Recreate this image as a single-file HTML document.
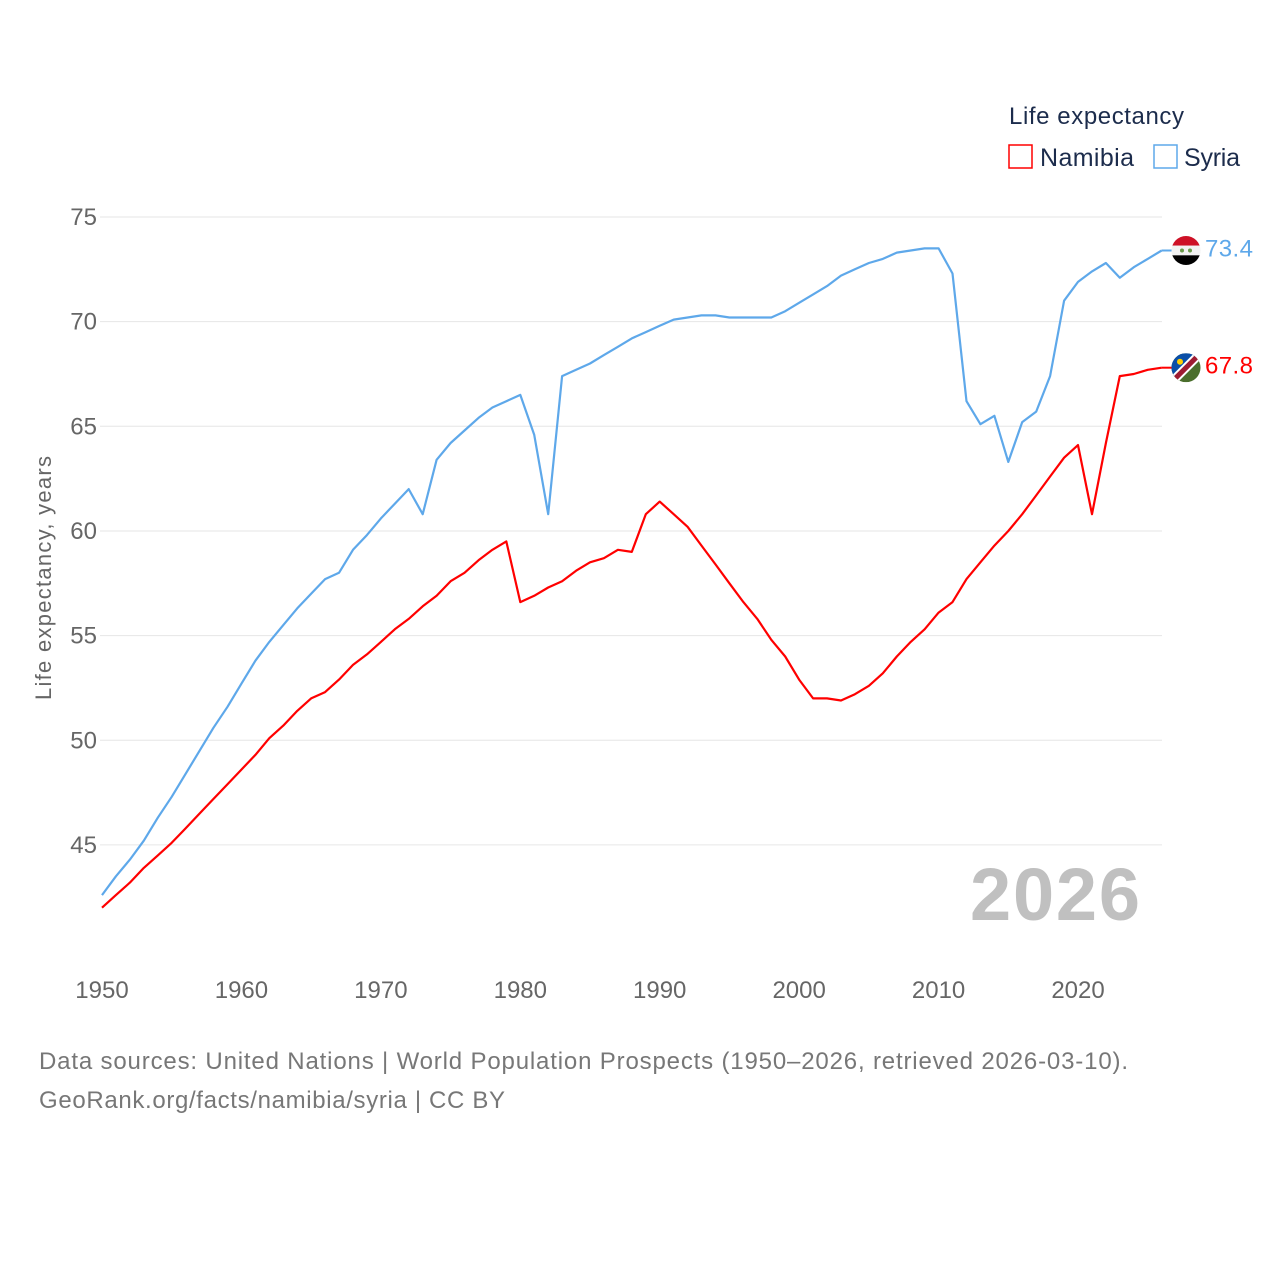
<!DOCTYPE html>
<html><head><meta charset="utf-8"><style>
html,body{margin:0;padding:0;background:#fff;}
svg{display:block;font-family:"Liberation Sans",sans-serif;}
</style></head><body>
<svg id="chart" width="1280" height="1280" viewBox="0 0 1280 1280">
<g id="grid"></g>
<g id="yticks"></g>
<g id="xticks"></g>
<text transform="translate(51,578) rotate(-90)" text-anchor="middle" font-size="22" fill="#666" textLength="244">Life expectancy, years</text>
<g id="series"></g>
<text x="1140" y="920" text-anchor="end" font-size="74" font-weight="bold" fill="#c0c0c0" textLength="170">2026</text>
<g>
<text x="1009" y="124" font-size="24" fill="#1c2c4c" textLength="175">Life expectancy</text>
<g><rect x="1009" y="145" width="23" height="23" fill="none" stroke="#ff0000" stroke-width="1.5"/><text x="1040" y="166" font-size="25" fill="#1c2c4c" textLength="94">Namibia</text></g>
<g><rect x="1154" y="145" width="23" height="23" fill="none" stroke="#5ea8ea" stroke-width="1.5"/><text x="1184" y="166" font-size="25" fill="#1c2c4c" textLength="56">Syria</text></g>
</g>
<g>
<text x="39" y="1069" font-size="24" fill="#777" textLength="1089">Data sources: United Nations | World Population Prospects (1950–2026, retrieved 2026-03-10).</text>
<text x="39" y="1108" font-size="24" fill="#777" textLength="466">GeoRank.org/facts/namibia/syria | CC BY</text>
</g>
</svg>
<script>
const years = [];
for (let y = 1950; y <= 2026; y++) years.push(y);
const syria = [42.6,43.5,44.3,45.2,46.3,47.3,48.4,49.5,50.6,51.6,52.7,53.8,54.7,55.5,56.3,57.0,57.7,58.0,59.1,59.8,60.6,61.3,62.0,60.8,63.4,64.2,64.8,65.4,65.9,66.2,66.5,64.6,60.8,67.4,67.7,68.0,68.4,68.8,69.2,69.5,69.8,70.1,70.2,70.3,70.3,70.2,70.2,70.2,70.2,70.5,70.9,71.3,71.7,72.2,72.5,72.8,73.0,73.3,73.4,73.5,73.5,72.3,66.2,65.1,65.5,63.3,65.2,65.7,67.4,71.0,71.9,72.4,72.8,72.1,72.6,73.0,73.4];
const namibia = [42.0,42.6,43.2,43.9,44.5,45.1,45.8,46.5,47.2,47.9,48.6,49.3,50.1,50.7,51.4,52.0,52.3,52.9,53.6,54.1,54.7,55.3,55.8,56.4,56.9,57.6,58.0,58.6,59.1,59.5,56.6,56.9,57.3,57.6,58.1,58.5,58.7,59.1,59.0,60.8,61.4,60.8,60.2,59.3,58.4,57.5,56.6,55.8,54.8,54.0,52.9,52.0,52.0,51.9,52.2,52.6,53.2,54.0,54.7,55.3,56.1,56.6,57.7,58.5,59.3,60.0,60.8,61.7,62.6,63.5,64.1,60.8,64.2,67.4,67.5,67.7,67.8];
const yTicks = [45,50,55,60,65,70,75];
const xTicks = [1950,1960,1970,1980,1990,2000,2010,2020];

const NS = "http://www.w3.org/2000/svg";
const xS = v => 102 + (v - 1950) * 13.943;
const yS = v => 217 + (75 - v) * 20.93;
function mk(tag, attrs, parent){const e=document.createElementNS(NS,tag);for(const k in attrs)e.setAttribute(k,attrs[k]);parent.appendChild(e);return e;}
const grid=document.getElementById('grid'), yt=document.getElementById('yticks'), xt=document.getElementById('xticks'), ser=document.getElementById('series');
yTicks.forEach(t=>{
  const l=mk('line',{x1:100,x2:1162,y1:yS(t),y2:yS(t),stroke:'#e6e6e6','stroke-width':1},grid);
  
  
  const tx=mk('text',{x:97,y:yS(t)+8,'text-anchor':'end','font-size':24,fill:'#666'},yt);
  tx.textContent=t;
  
  
});
xTicks.forEach(t=>{
  const tx=mk('text',{x:xS(t),y:998,'text-anchor':'middle','font-size':24,fill:'#666'},xt);
  tx.textContent=t;
  
  
});
function line(vals,color,name){
  const d=vals.map((v,i)=>(i?'L':'M')+xS(years[i]).toFixed(1)+' '+yS(v).toFixed(1)).join(' ');
  const p=mk('path',{d:d,fill:'none',stroke:color,'stroke-width':2.2,'stroke-linejoin':'round'},ser);
  
  
}
line(syria,'#5ea8ea','syria-line');
line(namibia,'#ff0000','namibia-line');

function endLabel(vals,color,name,flag){
  const v=vals[vals.length-1], x=xS(years[years.length-1]), y=yS(v);
  const g=mk('g',{},ser);
  
  
  mk('line',{x1:x,x2:1172,y1:y,y2:y,stroke:color,'stroke-width':2},g);
  const cx=1186, r=14.5;
  const cid='clip-'+name;
  const cp=mk('clipPath',{id:cid},g); mk('circle',{cx:cx,cy:y,r:r},cp);
  const fg=mk('g',{'clip-path':'url(#'+cid+')'},g);
  
  
  flag(fg,cx,y,r);
  const t=mk('text',{x:1205,y:y+6,'font-size':24,fill:color,textLength:48},g);
  t.textContent=v.toFixed(1);
}
endLabel(syria,'#5ea8ea','syria',(g,cx,cy,r)=>{
  mk('rect',{x:cx-r,y:cy-r,width:2*r,height:2*r/3,fill:'#ce1126'},g);
  mk('rect',{x:cx-r,y:cy-r/3,width:2*r,height:2*r/3,fill:'#f2f2f2'},g);
  mk('rect',{x:cx-r,y:cy+r/3,width:2*r,height:2*r/3,fill:'#000'},g);
  mk('circle',{cx:cx-4,cy:cy,r:2,fill:'#6a9a4a'},g);
  mk('circle',{cx:cx+4,cy:cy,r:2,fill:'#6a9a4a'},g);
});
endLabel(namibia,'#ff0000','namibia',(g,cx,cy,r)=>{
  mk('rect',{x:cx-r,y:cy-r,width:2*r,height:2*r,fill:'#4a6e2c'},g);
  mk('polygon',{points:`${cx-r},${cy-r} ${cx+r},${cy-r} ${cx-r},${cy+r}`,fill:'#0a4fa8'},g);
  mk('line',{x1:cx-r,y1:cy+r,x2:cx+r,y2:cy-r,stroke:'#fff','stroke-width':9},g);
  mk('line',{x1:cx-r,y1:cy+r,x2:cx+r,y2:cy-r,stroke:'#9e1b32','stroke-width':5},g);
  mk('circle',{cx:cx-6,cy:cy-6,r:3,fill:'#ffce00'},g);
});
</script>
</body></html>
